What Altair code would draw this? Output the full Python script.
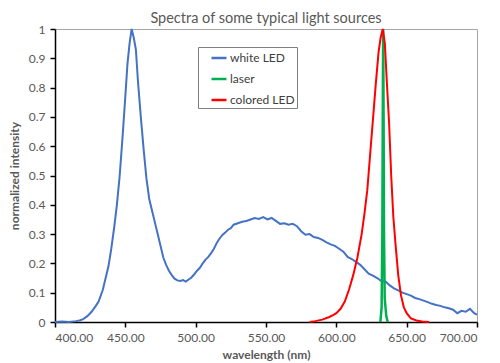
import altair as alt
import pandas as pd

# ---- data ----
white_nm = [400, 405, 410, 415, 418, 420, 423, 426, 429, 431, 434, 436, 438, 440, 442, 444,
            446, 448, 450, 451.5, 453, 454.5, 456, 457.5, 459, 461, 463, 465, 467, 469, 471,
            473, 475, 477, 479, 481, 483, 485, 487, 489, 491, 493, 495, 497, 499, 501, 503,
            505, 507, 509, 511, 513, 515, 517, 519, 521, 523, 525, 527, 530, 533, 536, 539,
            542, 545, 548, 551, 554, 557, 560, 563, 566, 569, 572, 575, 578, 581, 584, 587,
            590, 593, 596, 599, 602, 605, 608, 611, 614, 617, 620, 623, 626, 629, 632, 635,
            638, 641, 644, 647, 650, 653, 656, 659, 662, 665, 668, 671, 674, 677, 680, 683,
            686, 689, 692, 695, 698, 700]
white_val = [0.0, 0.002, 0.0, 0.003, 0.006, 0.01, 0.02, 0.035, 0.055, 0.07, 0.11, 0.15, 0.19,
             0.25, 0.32, 0.40, 0.50, 0.63, 0.77, 0.88, 0.95, 1.0, 0.97, 0.93, 0.82, 0.70, 0.59,
             0.49, 0.42, 0.38, 0.34, 0.30, 0.26, 0.22, 0.195, 0.175, 0.16, 0.148, 0.142, 0.14,
             0.143, 0.138, 0.145, 0.152, 0.163, 0.175, 0.185, 0.2, 0.213, 0.222, 0.235, 0.25,
             0.27, 0.285, 0.297, 0.305, 0.315, 0.32, 0.332, 0.337, 0.342, 0.345, 0.35, 0.355,
             0.352, 0.358, 0.35, 0.355, 0.345, 0.335, 0.337, 0.332, 0.335, 0.327, 0.31, 0.298,
             0.3, 0.29, 0.287, 0.28, 0.272, 0.265, 0.26, 0.25, 0.24, 0.222, 0.215, 0.205, 0.195,
             0.18, 0.165, 0.158, 0.15, 0.14, 0.138, 0.125, 0.115, 0.108, 0.1, 0.095, 0.09, 0.082,
             0.078, 0.073, 0.068, 0.062, 0.058, 0.055, 0.05, 0.047, 0.042, 0.03, 0.038, 0.035,
             0.045, 0.03, 0.025]

laser_nm = [631.3, 632.2, 632.7, 633.0, 633.3, 633.6, 633.9, 634.4, 635.5, 636.5]
laser_val = [0.0, 0.05, 0.3, 0.7, 1.0, 0.7, 0.3, 0.08, 0.02, 0.0]

red_nm = [581, 585, 590, 595, 598, 600, 603, 606, 609, 612, 615, 618, 620, 622, 624, 626, 628,
          630, 631.5, 633, 634.5, 636, 637.5, 639, 640.5, 642, 644, 646, 648, 650, 653, 657,
          661, 666]
red_val = [0.0, 0.003, 0.008, 0.017, 0.024, 0.03, 0.045, 0.07, 0.11, 0.16, 0.22, 0.30, 0.37,
           0.45, 0.57, 0.69, 0.81, 0.92, 0.97, 1.0, 0.95, 0.81, 0.68, 0.50, 0.36, 0.27, 0.16,
           0.09, 0.05, 0.03, 0.012, 0.005, 0.002, 0.0]

series_names = ["white LED", "laser", "colored LED"]
series_colors = ["#4472C4", "#00B050", "#FF0000"]
x_ticks = [400, 450, 500, 550, 600, 650, 700]
y_ticks = [0, 0.1, 0.2, 0.3, 0.4, 0.5, 0.6, 0.7, 0.8, 0.9, 1]

frames = []
for name, xs, ys in [("white LED", white_nm, white_val), ("laser", laser_nm, laser_val),
                     ("colored LED", red_nm, red_val)]:
    frames.append(pd.DataFrame({"nm": xs, "v": ys, "series": name}))
df = pd.concat(frames, ignore_index=True)

FONT = "Lato"
GRAY = "#595959"

x_enc = alt.X("nm:Q", scale=alt.Scale(domain=[400, 700], nice=False),
              axis=alt.Axis(values=x_ticks, format=".2f", title="wavelength (nm)",
                            titleX=211, titleY=32, titleBaseline="middle"))
y_enc = alt.Y("v:Q", scale=alt.Scale(domain=[0, 1], nice=False),
              axis=alt.Axis(values=y_ticks, format=".1~f", title="normalized intensity",
                            titleX=-41, titleY=146.5, titleBaseline="middle", titleAngle=-90,
                            titleAlign="center"))
color_enc = alt.Color("series:N",
                      scale=alt.Scale(domain=series_names, range=series_colors),
                      legend=alt.Legend(orient="none", legendX=143, legendY=18, title=None,
                                        symbolType="stroke", symbolSize=225,
                                        symbolStrokeWidth=2.5, symbolOffset=10,
                                        labelOffset=2, padding=2, rowPadding=6,
                                        strokeColor="#7f7f7f", fillColor="white",
                                        labelFont=FONT, labelFontSize=12,
                                        labelColor="#404040"))

layers = []
widths = {"white LED": 2, "laser": 2.5, "colored LED": 2}
for name in series_names:
    layers.append(
        alt.Chart(df).transform_filter(alt.datum.series == name)
        .mark_line(strokeWidth=widths[name])
        .encode(x=x_enc, y=y_enc, color=color_enc)
    )

chart = alt.layer(*layers).properties(
    width=422, height=293,
    title=alt.TitleParams("Spectra of some typical light sources", font=FONT, fontSize=14.5,
                          fontWeight="normal", color=GRAY, anchor="middle", offset=0, dy=3),
    autosize=alt.AutoSizeParams(type="none"),
    padding={"left": 47, "top": 21, "right": 15, "bottom": 40},
).configure_view(stroke="#a6a6a6", strokeWidth=1).configure_axis(
    grid=False, domainColor="black", domainWidth=1.5, tickColor="black", tickWidth=1.5,
    tickSize=5, labelFont=FONT, labelFontSize=12, labelColor=GRAY, labelPadding=5,
    titleFont=FONT, titleFontSize=12, titleFontWeight="bold", titleColor=GRAY,
)

chart.save("out.html", embed_options={"renderer": "svg", "actions": False})
